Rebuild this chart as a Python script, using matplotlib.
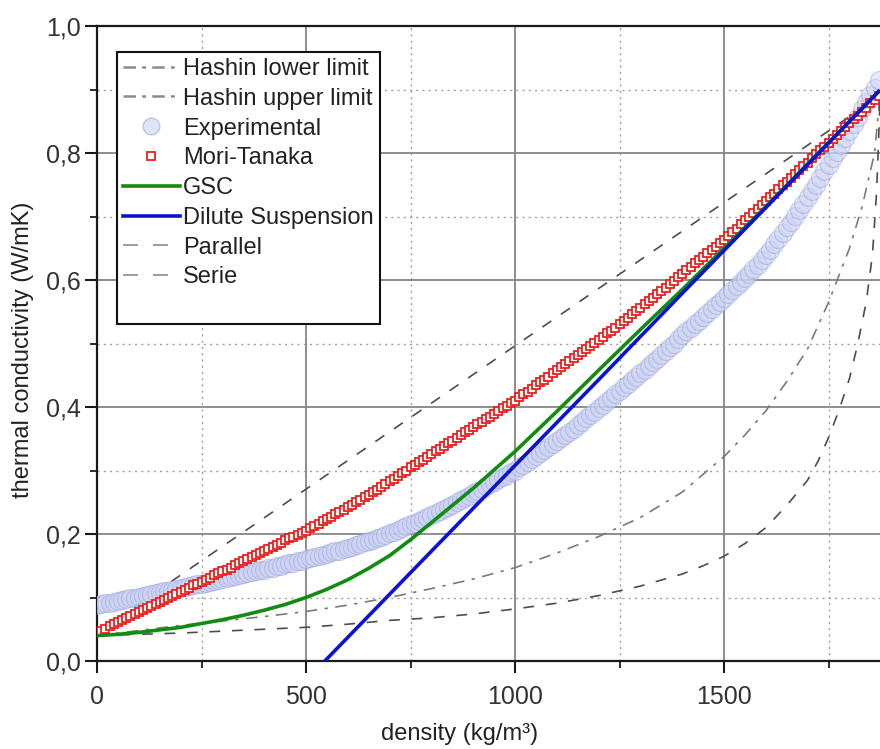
import numpy as np
import matplotlib
matplotlib.use('Agg')
import matplotlib.pyplot as plt
from matplotlib.lines import Line2D

plt.rcParams['font.family'] = ['Liberation Sans', 'DejaVu Sans']

# density grid of the marker series (kg/m3)
dens = np.arange(0, 1880, 10)

# experimental points, read every 10 kg/m3
k_exp = [
    0.088, 0.089, 0.091, 0.092, 0.093, 0.095, 0.096, 0.097, 0.099, 0.100,
    0.101, 0.103, 0.104, 0.106, 0.107, 0.108, 0.110, 0.111, 0.112, 0.114,
    0.115, 0.116, 0.118, 0.119, 0.121, 0.122, 0.123, 0.125, 0.126, 0.128,
    0.129, 0.131, 0.132, 0.134, 0.135, 0.137, 0.138, 0.140, 0.141, 0.143,
    0.144, 0.146, 0.147, 0.149, 0.150, 0.152, 0.154, 0.155, 0.157, 0.158,
    0.160, 0.162, 0.164, 0.165, 0.167, 0.169, 0.171, 0.173, 0.174, 0.176,
    0.178, 0.180, 0.182, 0.184, 0.187, 0.189, 0.191, 0.193, 0.196, 0.198,
    0.201, 0.203, 0.206, 0.209, 0.212, 0.215, 0.218, 0.221, 0.224, 0.227,
    0.230, 0.233, 0.236, 0.240, 0.243, 0.246, 0.250, 0.253, 0.257, 0.260,
    0.264, 0.267, 0.271, 0.275, 0.278, 0.282, 0.286, 0.290, 0.293, 0.297,
    0.300, 0.305, 0.309, 0.314, 0.318, 0.323, 0.327, 0.332, 0.337, 0.341,
    0.346, 0.351, 0.356, 0.361, 0.366, 0.371, 0.377, 0.382, 0.387, 0.392,
    0.398, 0.403, 0.409, 0.414, 0.420, 0.425, 0.431, 0.437, 0.442, 0.448,
    0.454, 0.459, 0.465, 0.471, 0.476, 0.482, 0.488, 0.494, 0.500, 0.507,
    0.513, 0.519, 0.525, 0.530, 0.536, 0.542, 0.548, 0.554, 0.560, 0.566,
    0.572, 0.578, 0.584, 0.590, 0.597, 0.603, 0.610, 0.617, 0.624, 0.632,
    0.640, 0.648, 0.656, 0.665, 0.674, 0.683, 0.692, 0.701, 0.711, 0.720,
    0.730, 0.740, 0.750, 0.760, 0.771, 0.781, 0.792, 0.802, 0.813, 0.824,
    0.835, 0.846, 0.857, 0.869, 0.880, 0.892, 0.903, 0.915,
]

# Mori-Tanaka, same grid
k_mt = [
    0.045, 0.048, 0.051, 0.055, 0.058, 0.061, 0.064, 0.067, 0.071, 0.074,
    0.077, 0.080, 0.083, 0.087, 0.090, 0.093, 0.096, 0.099, 0.103, 0.106,
    0.109, 0.112, 0.115, 0.119, 0.122, 0.125, 0.128, 0.131, 0.135, 0.138,
    0.141, 0.144, 0.147, 0.151, 0.154, 0.157, 0.160, 0.164, 0.167, 0.170,
    0.173, 0.177, 0.180, 0.183, 0.186, 0.190, 0.193, 0.196, 0.199, 0.202,
    0.205, 0.209, 0.212, 0.216, 0.220, 0.223, 0.227, 0.231, 0.234, 0.238,
    0.242, 0.246, 0.250, 0.254, 0.258, 0.262, 0.266, 0.270, 0.274, 0.279,
    0.283, 0.287, 0.292, 0.296, 0.300, 0.305, 0.309, 0.313, 0.317, 0.322,
    0.326, 0.330, 0.334, 0.339, 0.343, 0.347, 0.351, 0.356, 0.360, 0.364,
    0.368, 0.373, 0.377, 0.381, 0.385, 0.389, 0.393, 0.398, 0.402, 0.406,
    0.410, 0.415, 0.420, 0.424, 0.429, 0.434, 0.439, 0.443, 0.448, 0.453,
    0.458, 0.463, 0.468, 0.472, 0.477, 0.482, 0.487, 0.492, 0.496, 0.501,
    0.506, 0.511, 0.516, 0.520, 0.525, 0.530, 0.535, 0.540, 0.546, 0.551,
    0.556, 0.562, 0.567, 0.572, 0.578, 0.583, 0.588, 0.594, 0.599, 0.604,
    0.610, 0.615, 0.620, 0.626, 0.631, 0.636, 0.642, 0.647, 0.652, 0.658,
    0.663, 0.669, 0.675, 0.681, 0.688, 0.694, 0.700, 0.706, 0.712, 0.718,
    0.724, 0.730, 0.736, 0.743, 0.749, 0.755, 0.761, 0.767, 0.773, 0.779,
    0.785, 0.792, 0.798, 0.804, 0.810, 0.816, 0.822, 0.828, 0.835, 0.841,
    0.847, 0.853, 0.859, 0.865, 0.871, 0.878, 0.884, 0.890,
]

# model curves
x_gsc = [0, 50, 100, 150, 200, 250, 300, 350, 400, 450, 500, 550, 600, 650, 700,
         750, 800, 900, 1000, 1100, 1200, 1300, 1400, 1500, 1600, 1700, 1800, 1870]
k_gsc = [0.040, 0.042, 0.045, 0.049, 0.053, 0.059, 0.065, 0.072, 0.080, 0.089,
         0.100, 0.113, 0.128, 0.146, 0.166, 0.191, 0.218, 0.272, 0.330, 0.393,
         0.458, 0.522, 0.585, 0.650, 0.716, 0.783, 0.850, 0.897]

x_dil = [545, 800, 1000, 1200, 1400, 1600, 1870]
k_dil = [0.000, 0.173, 0.308, 0.443, 0.579, 0.714, 0.897]

x_par = [0, 1870]
k_par = [0.045, 0.889]

x_ser = [0, 100, 200, 300, 400, 500, 600, 700, 800, 900, 1000, 1100, 1200, 1300,
         1400, 1450, 1500, 1550, 1600, 1650, 1700, 1725, 1750, 1775, 1800,
         1820, 1840, 1855, 1865, 1873]
k_ser = [0.040, 0.042, 0.044, 0.047, 0.050, 0.053, 0.058, 0.064, 0.068, 0.074, 0.082,
         0.091, 0.103, 0.118, 0.137, 0.150, 0.165, 0.185, 0.210, 0.245, 0.285, 0.315,
         0.352, 0.395, 0.445, 0.500, 0.565, 0.640, 0.740, 0.880]

x_hl = [0, 100, 200, 300, 400, 500, 600, 700, 800, 900, 1000, 1100, 1200, 1300,
        1400, 1500, 1550, 1600, 1650, 1700, 1750, 1800, 1830, 1860, 1873]
k_hl = [0.040, 0.048, 0.056, 0.063, 0.070, 0.078, 0.088, 0.100, 0.114, 0.129, 0.147,
        0.170, 0.196, 0.226, 0.266, 0.322, 0.356, 0.394, 0.440, 0.492, 0.565, 0.650,
        0.715, 0.800, 0.890]

x_hu = [0, 250, 500, 750, 1000, 1250, 1500, 1750, 1870]
k_hu = [0.045, 0.125, 0.205, 0.305, 0.410, 0.530, 0.663, 0.816, 0.890]

xticks = [0, 500, 1000, 1500]
yticks = [0.0, 0.2, 0.4, 0.6, 0.8, 1.0]
ytick_labels = ['0,0', '0,2', '0,4', '0,6', '0,8', '1,0']

fig = plt.figure(figsize=(8.8, 7.49), dpi=100)
ax = fig.add_axes([97 / 880, 88 / 749, 783 / 880, 635 / 749])

dashdot = (0, (7, 4.5, 2, 4.5))
dashed = (0, (6.5, 7))
exp_face, exp_edge = '#ccd2f2', '#98a3e0'

ax.plot(x_hl, k_hl, color='#7a7a7a', lw=1.2, ls=dashdot, zorder=3)
ax.plot(x_hu, k_hu, color='#7a7a7a', lw=1.2, ls=dashdot, zorder=2)
ax.plot(dens, k_exp, ls='none', marker='o', ms=13, mfc=exp_face, mec=exp_edge,
        mew=0.8, alpha=0.5, zorder=4)
ax.plot(dens, k_mt, ls='none', marker='s', ms=6, mfc='white', mec='#e8201e',
        mew=1.3, zorder=5)
ax.plot(x_gsc, k_gsc, color='#118c11', lw=2.6, zorder=6)
ax.plot(x_dil, k_dil, color='#0a14d0', lw=2.6, zorder=7)
ax.plot(x_par, k_par, color='#4d4d4d', lw=1.2, ls=dashed, zorder=3)
ax.plot(x_ser, k_ser, color='#4d4d4d', lw=1.2, ls=dashed, zorder=3)

ax.set_xlim(0, 1873)
ax.set_ylim(0, 1.0)
ax.set_xticks(xticks)
ax.set_xticklabels([str(v) for v in xticks])
ax.set_yticks(yticks)
ax.set_yticklabels(ytick_labels)
ax.set_xticks([250, 750, 1250, 1750], minor=True)
ax.set_yticks([0.1, 0.3, 0.5, 0.7, 0.9], minor=True)

ax.grid(which='major', color='#858585', lw=1.3, ls='-', zorder=0)
ax.grid(which='minor', color='#a0a0a0', lw=1.0, ls=(0, (1.5, 3)), zorder=0)
ax.set_axisbelow(True)

for s in ['left', 'bottom', 'top']:
    ax.spines[s].set_linewidth(1.6)
    ax.spines[s].set_color('#1a1a1a')
ax.spines['right'].set_visible(False)

ax.tick_params(which='major', direction='out', length=8.5, width=1.5,
               labelsize=18, labelcolor='#333333', color='#1a1a1a')
ax.tick_params(axis='x', which='major', pad=9)
ax.tick_params(axis='y', which='major', pad=3)
ax.tick_params(which='minor', direction='out', length=5, width=1.3, color='#1a1a1a')

ax.set_xlabel('density (kg/m³)', fontsize=17, color='#222222')
ax.xaxis.set_label_coords(0.4636, -0.097)
ax.set_ylabel('thermal conductivity (W/mK)', fontsize=17, color='#222222')
ax.yaxis.set_label_coords(-0.08, 0.49)

handles = [
    Line2D([], [], color='#8a8a8a', lw=1.8, ls=(0, (5, 2.5, 1.5, 2.5))),
    Line2D([], [], color='#8a8a8a', lw=1.8, ls=(0, (5, 2.5, 1.5, 2.5))),
    Line2D([], [], ls='none', marker='o', ms=12, mfc=exp_face, mec=exp_edge, alpha=0.6),
    Line2D([], [], ls='none', marker='s', ms=6, mfc='white', mec='#e8201e', mew=1.3),
    Line2D([], [], color='#118c11', lw=2.6),
    Line2D([], [], color='#0a14d0', lw=2.6),
    Line2D([], [], color='#8a8a8a', lw=1.2, ls=(0, (9, 9))),
    Line2D([], [], color='#8a8a8a', lw=1.2, ls=(0, (9, 9))),
    Line2D([], [], ls='none'),
]
labels = ['Hashin lower limit', 'Hashin upper limit', 'Experimental', 'Mori-Tanaka',
          'GSC', 'Dilute Suspension', 'Parallel', 'Serie', ' ']
leg = ax.legend(handles, labels, loc='upper left', bbox_to_anchor=(0.0255, 0.959),
                borderaxespad=0, fontsize=17, handlelength=2.4, handletextpad=0.15,
                labelspacing=0.33, borderpad=0.25, fancybox=False, framealpha=1,
                edgecolor='#111111')
leg.get_frame().set_linewidth(1.5)
for t in leg.get_texts():
    t.set_color('#222222')
leg.set_zorder(10)

fig.savefig('out.png', dpi=100)
